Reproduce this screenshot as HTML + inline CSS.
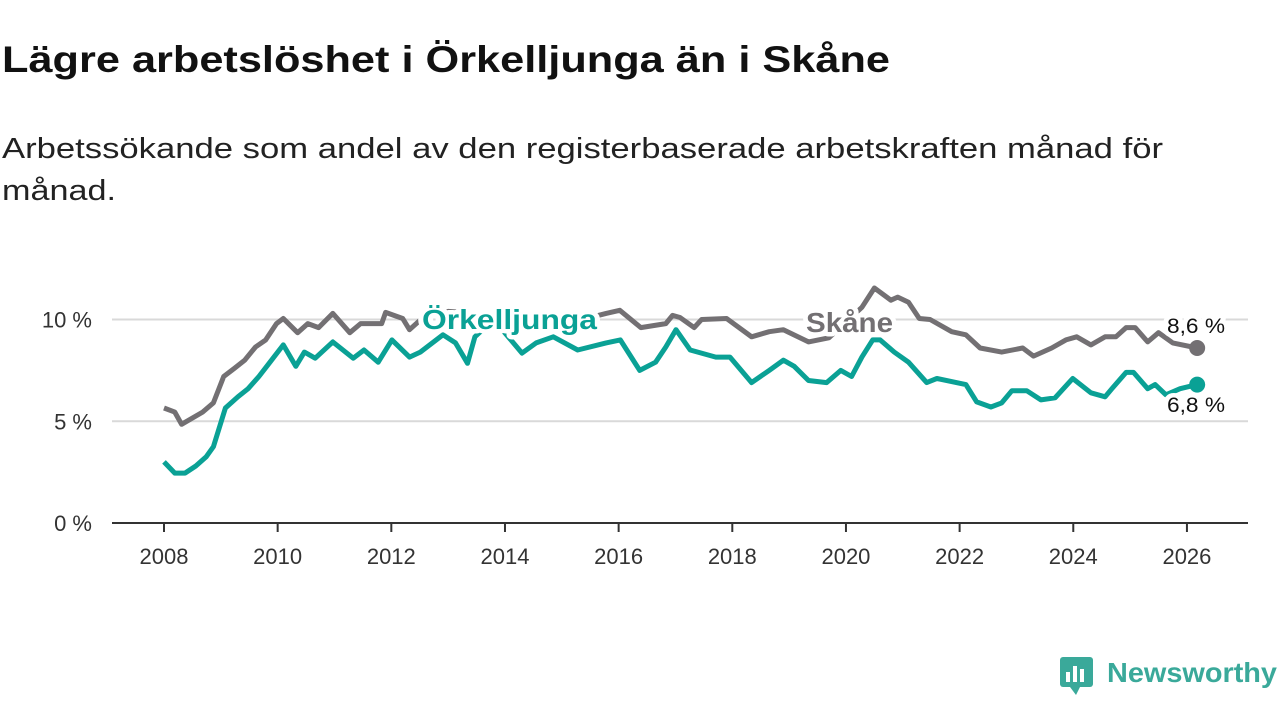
<!DOCTYPE html>
<html><head><meta charset="utf-8">
<style>
body{margin:0;width:1280px;height:720px;background:#fff;overflow:hidden;font-family:"Liberation Sans",sans-serif;}
svg{position:absolute;left:0;top:0}
</style></head>
<body>
<svg width="1280" height="720">
<text x="2" y="72" font-size="37" font-weight="bold" fill="#111" textLength="888" lengthAdjust="spacingAndGlyphs">Lägre arbetslöshet i Örkelljunga än i Skåne</text>
<text x="2" y="158" font-size="29" fill="#222" textLength="1161" lengthAdjust="spacingAndGlyphs">Arbetssökande som andel av den registerbaserade arbetskraften månad för</text>
<text x="2" y="200" font-size="29" fill="#222" textLength="114" lengthAdjust="spacingAndGlyphs">månad.</text>
<g id="grid"></g><g id="lines"></g><g id="labels"></g>
<g>
<rect x="1060" y="657" width="33" height="30" rx="3" fill="#3aa99a"/>
<rect x="1066" y="672" width="4" height="10" fill="#fff"/><rect x="1073" y="666" width="4" height="16" fill="#fff"/><rect x="1080" y="669" width="4" height="13" fill="#fff"/>
<path d="M1070 687 L1076 695 L1080 687 Z" fill="#3aa99a"/>
<text x="1107" y="682" font-size="28" font-weight="bold" fill="#3aa99a" textLength="170" lengthAdjust="spacingAndGlyphs">Newsworthy</text>
</g>
</svg>
<script>
const skYears=[2008.0,2008.19,2008.31,2008.68,2008.87,2009.05,2009.24,2009.42,2009.61,2009.79,2009.98,2010.1,2010.35,2010.53,2010.72,2010.97,2011.27,2011.46,2011.83,2011.9,2012.2,2012.32,2012.6,2013.0,2013.5,2014.0,2014.5,2015.0,2015.5,2015.78,2016.02,2016.39,2016.83,2016.95,2017.08,2017.33,2017.46,2017.9,2018.34,2018.65,2018.9,2019.34,2019.7,2020.28,2020.5,2020.79,2020.91,2021.1,2021.29,2021.48,2021.86,2022.11,2022.36,2022.74,2023.11,2023.3,2023.62,2023.87,2024.06,2024.31,2024.56,2024.75,2024.93,2025.09,2025.31,2025.5,2025.75,2026.18];
const skValues=[5.65,5.45,4.85,5.45,5.9,7.2,7.6,8.0,8.65,9.0,9.8,10.05,9.35,9.8,9.6,10.3,9.35,9.8,9.8,10.35,10.05,9.5,10.2,10.4,10.3,10.2,10.0,10.1,10.1,10.3,10.45,9.6,9.8,10.2,10.1,9.6,10.0,10.05,9.15,9.4,9.5,8.9,9.1,10.6,11.55,10.95,11.1,10.85,10.05,10.0,9.4,9.25,8.6,8.4,8.6,8.2,8.6,9.0,9.15,8.75,9.15,9.15,9.6,9.6,8.9,9.35,8.85,8.6];
const orYears=[2008.0,2008.19,2008.37,2008.56,2008.74,2008.87,2009.08,2009.3,2009.48,2009.67,2009.85,2010.1,2010.32,2010.47,2010.66,2010.97,2011.33,2011.52,2011.77,2012.01,2012.32,2012.51,2012.91,2013.13,2013.34,2013.47,2013.8,2014.3,2014.55,2014.85,2015.28,2015.78,2016.03,2016.37,2016.65,2016.83,2017.01,2017.26,2017.71,2017.96,2018.34,2018.65,2018.9,2019.09,2019.34,2019.66,2019.91,2020.1,2020.28,2020.47,2020.6,2020.85,2021.1,2021.42,2021.6,2022.11,2022.3,2022.55,2022.74,2022.92,2023.18,2023.43,2023.68,2023.99,2024.31,2024.56,2024.68,2024.93,2025.06,2025.31,2025.44,2025.63,2025.88,2026.18];
const orValues=[3.0,2.45,2.45,2.8,3.25,3.75,5.65,6.2,6.6,7.2,7.85,8.75,7.7,8.4,8.1,8.9,8.1,8.5,7.9,9.0,8.15,8.4,9.25,8.85,7.85,9.15,10.0,8.35,8.85,9.15,8.5,8.85,9.0,7.5,7.9,8.65,9.5,8.5,8.15,8.15,6.9,7.5,8.0,7.7,7.0,6.9,7.5,7.2,8.15,9.0,9.0,8.4,7.9,6.9,7.1,6.8,5.95,5.7,5.9,6.5,6.5,6.05,6.15,7.1,6.4,6.2,6.6,7.4,7.4,6.6,6.8,6.3,6.6,6.8];
const yTicks=[0,5,10];
const yTickLabels=["0 %","5 %","10 %"];
const xTicks=[2008,2010,2012,2014,2016,2018,2020,2022,2024,2026];

const NS="http://www.w3.org/2000/svg";
const xs=y=>164+(y-2008)*56.83;
const ys=v=>523-v*20.35;
function mk(tag,attrs,parent){const e=document.createElementNS(NS,tag);for(const k in attrs)e.setAttribute(k,attrs[k]);parent.appendChild(e);return e;}
const grid=document.getElementById('grid'),lines=document.getElementById('lines'),labels=document.getElementById('labels');
yTicks.forEach((t,i)=>{
  if(t>0){const g=mk('line',{x1:112,x2:1248,y1:ys(t),y2:ys(t),stroke:'#d9d9d9','stroke-width':2},grid);
  
  }
  const l=mk('text',{x:92,y:ys(t)+8,'font-size':22,fill:'#333','text-anchor':'end'},grid);
  l.textContent=yTickLabels[i];
  
  
});
const ax=mk('line',{x1:112,x2:1248,y1:ys(0),y2:ys(0),stroke:'#333','stroke-width':2},grid);


xTicks.forEach(t=>{
  mk('line',{x1:xs(t),x2:xs(t),y1:524,y2:532,stroke:'#333','stroke-width':2},grid);
  const l=mk('text',{x:xs(t),y:564,'font-size':22,fill:'#333','text-anchor':'middle'},grid);
  l.textContent=t;
  
  
});
function series(yrs,vals,color,name){
  const d=yrs.map((y,i)=>(i?'L':'M')+xs(y).toFixed(1)+' '+ys(vals[i]).toFixed(1)).join(' ');
  const p=mk('path',{d:d,fill:'none',stroke:color,'stroke-width':5,'stroke-linejoin':'round'},lines);
  
  
  const n=yrs.length-1;
  const c=mk('circle',{cx:xs(yrs[n]),cy:ys(vals[n]),r:8,fill:color},lines);
  
  
}
series(skYears,skValues,'#737073','skane');
series(orYears,orValues,'#0aa195','orkelljunga');
function lab(x,y,txt,size,color,bold,name,len){
  const t=mk('text',{x:x,y:y,'font-size':size,fill:color,'font-weight':bold?'bold':'normal',stroke:'#fff','stroke-width':9,'paint-order':'stroke','stroke-linejoin':'round'},labels);
  if(len){t.setAttribute('textLength',len);t.setAttribute('lengthAdjust','spacingAndGlyphs');}
  t.textContent=txt;
  
  
}
lab(422,329,'Örkelljunga',28,'#0aa195',true,'orkelljunga-series-label',175);
lab(806,332,'Skåne',28,'#737073',true,'skane-series-label',87);
lab(1167,333,'8,6 %',21,'#111',false,'skane-end-value',58);
lab(1167,412,'6,8 %',21,'#111',false,'orkelljunga-end-value',58);
</script>
</body></html>
